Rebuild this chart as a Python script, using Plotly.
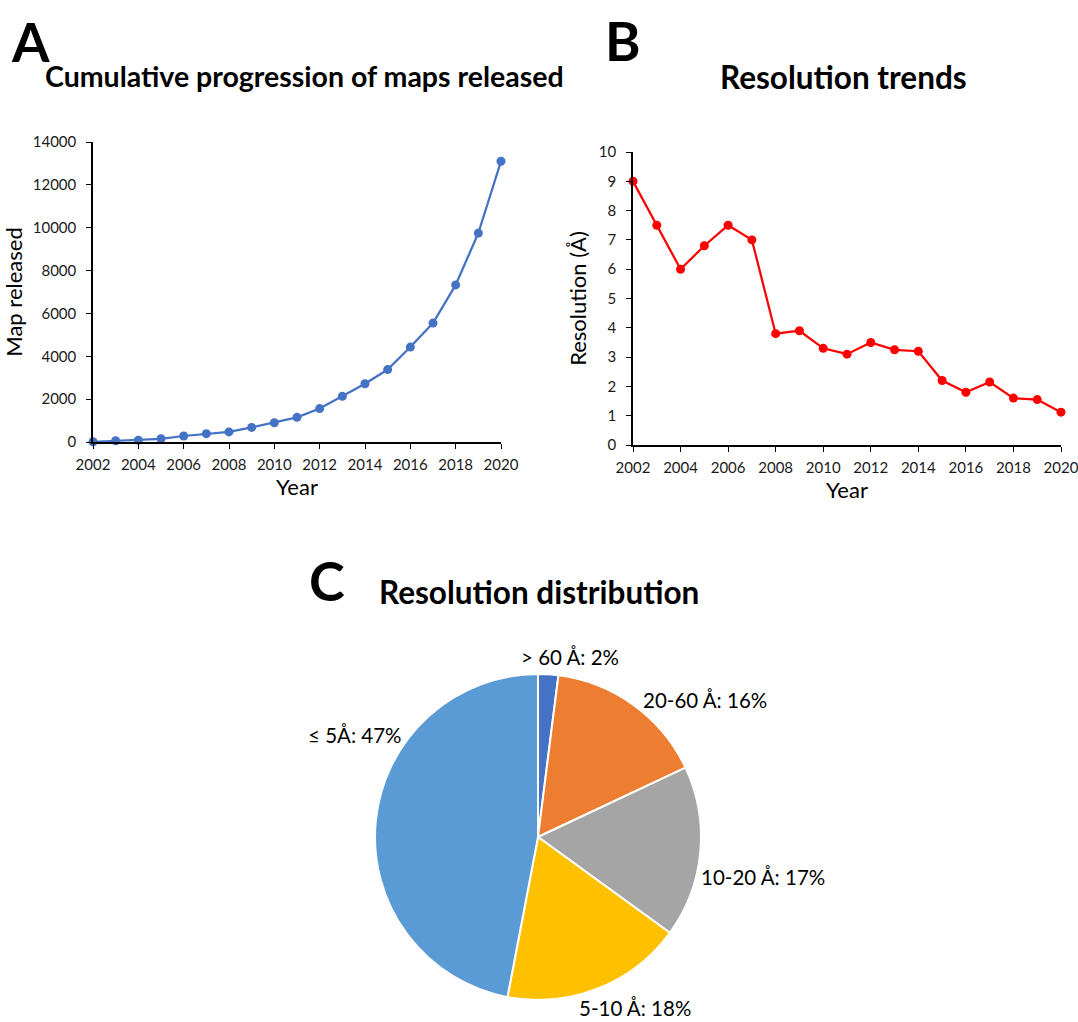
import plotly.graph_objects as go

years = list(range(2002, 2021))
maps_released = [10, 60, 80, 150, 280, 390, 470, 680, 900, 1150, 1560, 2130,
                 2720, 3380, 4430, 5550, 7330, 9750, 13100]
resolution = [9.0, 7.5, 6.0, 6.8, 7.5, 7.0, 3.8, 3.9, 3.3, 3.1, 3.5, 3.25,
              3.2, 2.2, 1.8, 2.15, 1.6, 1.55, 1.12]
pie_labels = ["> 60 Å", "20-60 Å", "10-20 Å", "5-10 Å", "≤ 5Å"]
pie_values = [2, 16, 17, 18, 47]
pie_colors = ["#4472C4", "#ED7D31", "#A5A5A5", "#FFC000", "#5B9BD5"]

# label placement (layout only, in page pixels)
pie_label_pos = [(570, 657), (705, 700), (763, 877), (635, 1008), (355, 735)]

W, H = 1078, 1022
FONT = "Lato"
TXT = "#1a1a1a"

def px(x):
    return x / W

def py(y):
    return 1 - y / H

fig = go.Figure()

fig.add_trace(go.Scatter(
    x=years, y=maps_released, mode="lines+markers",
    line=dict(color="#4472C4", width=2.25),
    marker=dict(color="#4472C4", size=9),
    cliponaxis=False, xaxis="x", yaxis="y", showlegend=False))

fig.add_trace(go.Scatter(
    x=years, y=resolution, mode="lines+markers",
    line=dict(color="#FF0000", width=2.25),
    marker=dict(color="#FF0000", size=9),
    cliponaxis=False, xaxis="x2", yaxis="y2", showlegend=False))

fig.add_trace(go.Pie(
    labels=pie_labels, values=pie_values, sort=False, direction="clockwise",
    rotation=0, marker=dict(colors=pie_colors, line=dict(color="white", width=2)),
    textinfo="none",
    domain=dict(x=[px(375), px(701)], y=[py(1000), py(674)]),
    showlegend=False, automargin=False))

def axis_common(standoff):
    return dict(
        showline=True, linecolor="black", linewidth=1.5, showgrid=False,
        zeroline=False, ticks="outside", ticklen=5, tickcolor="black",
        tickfont=dict(family=FONT, size=15, color=TXT), automargin=False,
        ticklabelstandoff=standoff, ticklabeloverflow="allow",
    )

title_font = dict(family=FONT, size=22, color="black")

fig.update_layout(
    width=W, height=H, margin=dict(l=0, r=0, t=0, b=0, autoexpand=False),
    paper_bgcolor="white", plot_bgcolor="white",
    xaxis=dict(domain=[px(93), px(501)], range=[2002, 2020], dtick=2, tick0=2002,
               anchor="y", title=dict(text="Year", font=title_font, standoff=2),
               **axis_common(3)),
    yaxis=dict(domain=[py(442), py(142)], range=[0, 14000], dtick=2000, tickformat="d",
               anchor="x", title=dict(text="Map released", font=title_font, standoff=4),
               **axis_common(7)),
    xaxis2=dict(domain=[px(633), px(1061)], range=[2002, 2020], dtick=2, tick0=2002,
                anchor="y2", title=dict(text="Year", font=title_font, standoff=2),
                **axis_common(3)),
    yaxis2=dict(domain=[py(445), py(152)], range=[0, 10], dtick=1,
                anchor="x2", title=dict(text="Resolution (Å)", font=title_font, standoff=6),
                **axis_common(7)),
)

for lab, val, (x, y) in zip(pie_labels, pie_values, pie_label_pos):
    fig.add_annotation(text=f"{lab}: {val}%", x=px(x), y=py(y), xref="paper", yref="paper",
                       showarrow=False, font=dict(family=FONT, size=20.5, color="black"),
                       xanchor="center", yanchor="middle")

annos = [
    ("A", 30, 42, 54), ("B", 623, 40, 54), ("C", 327, 580, 54),
]
for t, x, y, s in annos:
    fig.add_annotation(text=f"<b>{t}</b>", x=px(x), y=py(y), xref="paper", yref="paper",
                       showarrow=False, font=dict(family=FONT, size=s, color="black"),
                       xanchor="center", yanchor="middle")

titles = [
    ("Cumulative progression of maps released", 304, 76, 28.5),
    ("Resolution trends", 843, 77, 31.5),
    ("Resolution distribution", 539, 592, 31.5),
]
for t, x, y, s in titles:
    fig.add_annotation(text=f"<b>{t}</b>", x=px(x), y=py(y), xref="paper", yref="paper",
                       showarrow=False, font=dict(family=FONT, size=s, color="black"),
                       xanchor="center", yanchor="middle")

fig.write_html(
    "out.html",
    config={"displayModeBar": False},
    post_script="document.body.style.margin='0';document.body.style.overflow='hidden';",
)
